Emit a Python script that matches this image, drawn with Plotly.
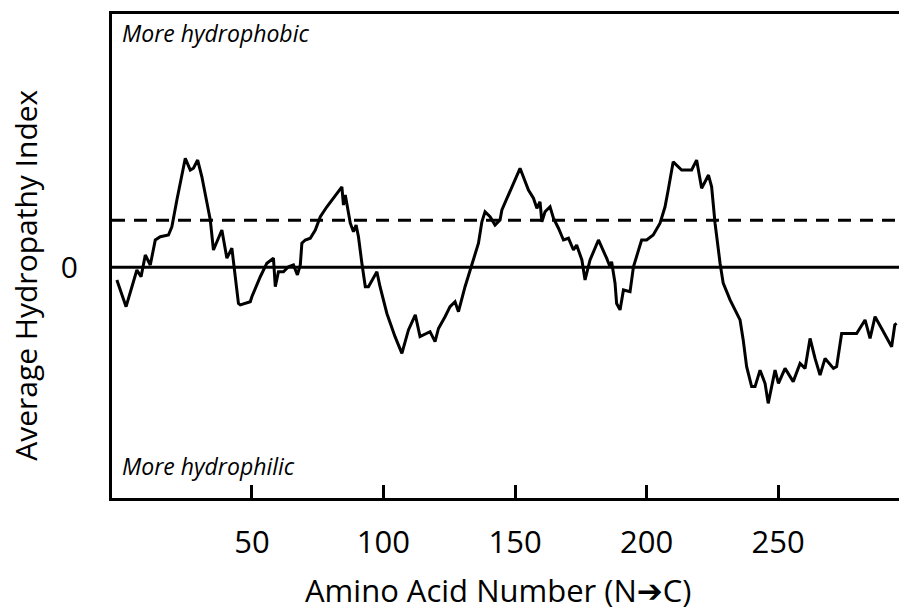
import plotly.graph_objects as go

# Amino acid position (residue number) along the sequence
residue = [-1.3, 2.2, 6.3, 7.9, 9.5, 11.4, 13.3, 15.2, 18.3, 19.6, 21.5, 23.4, 24.7, 26.6, 27.8, 29.4,
           31.0, 34.2, 35.4, 38.6, 40.5, 42.4, 44.9, 45.6, 49.4, 50.0, 53.2, 55.7, 58.2, 58.9, 60.1,
           62.0, 63.9, 65.8, 67.3, 68.4, 69.0, 70.3, 72.2, 74.1, 76.0, 78.5, 81.7, 84.2, 84.8, 85.5,
           87.4, 88.6, 89.6, 90.5, 91.8, 93.1, 94.3, 97.5, 98.7, 101.3, 104.4, 107.0, 109.5, 112.1,
           113.9, 116.5, 117.7, 119.6, 120.9, 123.4, 125.3, 127.2, 128.5, 131.0, 133.6, 136.1, 137.4,
           138.6, 140.5, 142.4, 144.3, 145.0, 151.9, 155.1, 157.0, 158.3, 159.5, 160.2, 161.4, 163.3,
           164.6, 166.5, 168.4, 170.3, 172.2, 173.4, 175.4, 176.6, 178.5, 181.7, 184.8, 186.1, 186.7,
           188.0, 188.6, 189.9, 191.2, 193.7, 195.0, 196.8, 198.1, 200.0, 202.5, 205.1, 207.0, 208.2,
           210.1, 213.3, 217.1, 219.0, 220.9, 222.2, 223.5, 224.7, 226.0, 227.9, 229.1, 231.7, 235.5,
           236.7, 238.0, 239.9, 241.2, 243.1, 245.0, 246.2, 248.8, 250.1, 252.6, 255.7, 258.3, 260.2,
           262.1, 264.0, 265.9, 267.8, 271.0, 272.2, 274.1, 279.8, 283.0, 284.9, 286.8, 289.3, 293.1,
           294.3, 295.0]

# Average hydropathy index (window-averaged)
hydropathy = [-0.43, -1.34, -0.09, -0.32, 0.42, 0.08, 0.93, 1.04, 1.10, 1.38, 2.29, 3.08, 3.71, 3.31,
              3.37, 3.65, 3.08, 1.61, 0.59, 1.27, 0.31, 0.65, -1.23, -1.28, -1.17, -1.00, -0.32, 0.14,
              0.31, -0.66, -0.15, -0.15, 0.02, 0.08, -0.26, 0.08, 0.82, 0.93, 0.99, 1.27, 1.72, 2.06,
              2.46, 2.74, 2.12, 2.46, 1.50, 1.21, 1.44, 1.04, 0.14, -0.66, -0.66, -0.15, -0.66, -1.57,
              -2.36, -2.93, -2.13, -1.62, -2.36, -2.25, -2.19, -2.53, -2.08, -1.68, -1.34, -1.17, -1.51,
              -0.66, 0.08, 0.82, 1.55, 1.89, 1.72, 1.44, 1.61, 1.95, 3.37, 2.63, 2.35, 2.01, 2.23, 1.55,
              1.89, 2.06, 1.67, 1.33, 0.93, 0.99, 0.59, 0.76, 0.25, -0.43, 0.25, 0.93, 0.31, 0.02, 0.19,
              -0.54, -1.23, -1.45, -0.77, -0.83, 0.02, 0.59, 0.93, 0.93, 1.10, 1.50, 2.06, 2.63, 3.59,
              3.31, 3.31, 3.65, 2.69, 2.91, 3.14, 2.74, 1.50, 0.14, -0.54, -1.11, -1.79, -2.47, -3.38,
              -4.06, -4.06, -3.50, -3.95, -4.63, -3.50, -3.95, -3.44, -3.89, -3.27, -3.44, -2.42, -3.10,
              -3.67, -3.10, -3.44, -3.38, -2.25, -2.25, -1.79, -2.42, -1.68, -2.08, -2.70, -1.96, -1.91]

x_ticks = [50, 100, 150, 200, 250]
y_ticks = [0]
threshold = 1.6

fig = go.Figure()
fig.add_trace(go.Scatter(x=residue, y=hydropathy, mode="lines",
                         line=dict(color="black", width=3), showlegend=False,
                         hoverinfo="skip"))

# zero line and threshold line
fig.add_shape(type="line", xref="paper", x0=0, x1=1, yref="y", y0=0, y1=0,
              line=dict(color="black", width=3))
fig.add_shape(type="line", xref="paper", x0=0, x1=1, yref="y", y0=threshold, y1=threshold,
              line=dict(color="black", width=3, dash="13px,9px"))

fig.update_layout(
    width=899, height=611,
    margin=dict(l=112, r=0, t=14, b=113),
    plot_bgcolor="white", paper_bgcolor="white",
    font=dict(family="Open Sans", color="black"),
    xaxis=dict(range=[-3.15, 295.9], showgrid=False, zeroline=False,
               showline=True, linecolor="black", linewidth=3, mirror=True,
               ticks="inside", ticklen=13, tickwidth=3, tickcolor="black",
               tickvals=x_ticks, ticktext=[str(v) for v in x_ticks],
               tickfont=dict(size=31, family="Open Sans"), ticklabelstandoff=15),
    yaxis=dict(range=[-7.85, 8.62], showgrid=False, zeroline=False,
               showline=True, linecolor="black", linewidth=3,
               ticks="", tickvals=y_ticks, ticktext=["0"],
               tickfont=dict(size=30, family="Open Sans"), ticklabelstandoff=25),
    annotations=[
        dict(text="<i>More hydrophobic</i>", xref="paper", yref="paper", x=0.0105, y=0.961,
             xanchor="left", yanchor="middle", showarrow=False,
             font=dict(size=23, family="Open Sans", color="black")),
        dict(text="<i>More hydrophilic</i>", xref="paper", yref="paper", x=0.0105, y=0.066,
             xanchor="left", yanchor="middle", showarrow=False,
             font=dict(size=23, family="Open Sans", color="black")),
        dict(text="Average Hydropathy Index", xref="paper", yref="paper", x=-0.11, y=0.46,
             xanchor="center", yanchor="middle", showarrow=False, textangle=-90,
             font=dict(size=30, family="Open Sans", color="black")),
        dict(text="Amino Acid Number (N<span style='font-family:DejaVu Sans'>➔</span>C)",
             xref="paper", yref="paper", x=0.49, y=-0.19,
             xanchor="center", yanchor="middle", showarrow=False,
             font=dict(size=31, family="Open Sans", color="black")),
    ],
)

fig.write_html("out.html", config={"displayModeBar": False},
               post_script="document.body.style.margin='0';document.body.style.overflow='hidden';")
